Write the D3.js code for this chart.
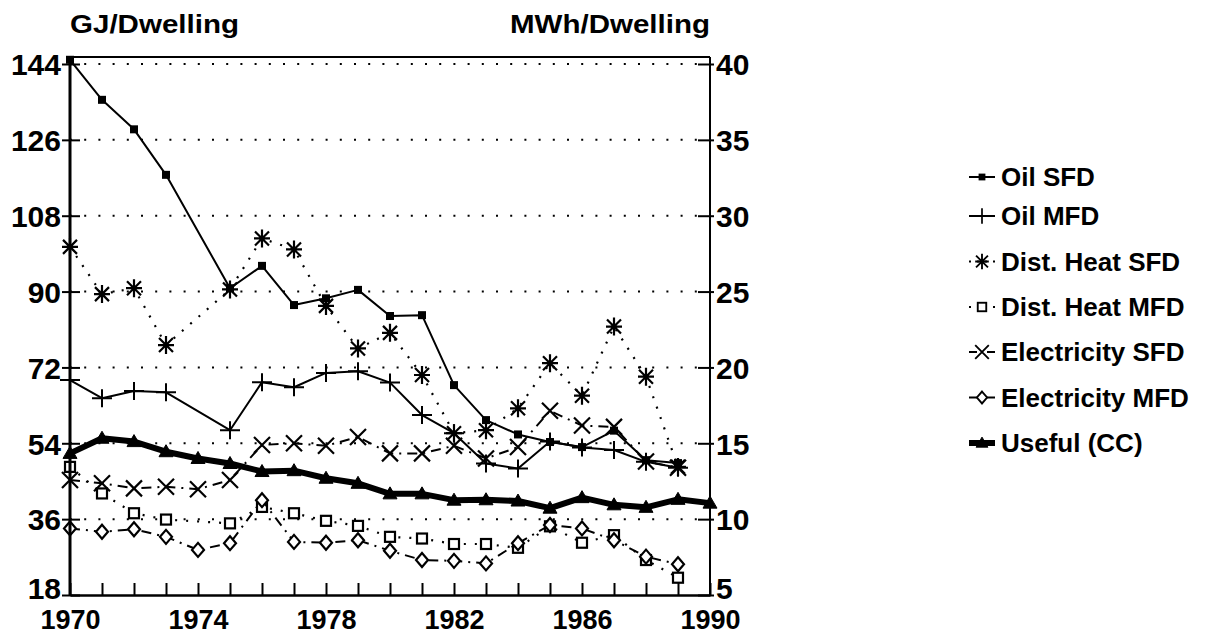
<!DOCTYPE html>
<html><head><meta charset="utf-8">
<script src="https://cdn.jsdelivr.net/npm/d3@7"></script>
<style>body{margin:0;background:#fff}svg{display:block}</style>
</head><body><svg id="c" width="1212" height="634"></svg>
<script>
// ---- data (GJ/Dwelling) ----
const years = [1970,1971,1972,1973,1974,1975,1976,1977,1978,1979,1980,1981,1982,1983,1984,1985,1986,1987,1988,1989,1990];
const oilSFD  = [145.0,135.5,128.5,117.7,null,90.8,96.1,86.8,88.4,90.4,84.2,84.4,67.8,59.5,56.1,54.3,53.1,57.0,50.0,49.3,null];
const oilMFD  = [69.0,64.7,66.4,66.1,null,57.1,68.5,67.3,70.7,71.1,68.4,60.7,56.4,49.2,48.0,54.4,53.0,52.4,49.6,48.2,null];
const dhSFD   = [100.6,89.4,90.8,77.3,null,90.5,102.6,100.0,86.6,76.5,80.2,70.2,56.4,57.1,62.3,73.0,65.3,81.7,69.8,48.4,null];
const dhMFD   = [48.4,42.1,37.4,35.9,null,35.0,38.9,37.4,35.6,34.4,31.8,31.4,30.1,30.1,29.2,34.3,30.4,32.2,26.3,22.1,null];
const elSFD   = [45.3,44.5,43.3,43.7,43.1,45.3,53.6,54.0,53.4,55.5,51.6,51.6,53.4,50.4,53.1,61.7,58.2,57.9,49.7,48.2,null];
const elMFD   = [33.8,33.0,33.6,31.8,28.7,30.3,40.5,30.6,30.4,31.0,28.5,26.3,26.1,25.5,30.3,34.6,33.8,31.0,27.1,25.3,null];
const useful  = [51.6,55.2,54.4,52.0,50.4,49.2,47.3,47.5,45.7,44.5,42.0,42.0,40.5,40.6,40.3,38.6,41.1,39.4,38.8,40.7,39.8];
const seriesNames = ["Oil SFD","Oil MFD","Dist. Heat SFD","Dist. Heat MFD","Electricity SFD","Electricity MFD","Useful (CC)"];
const leftTicks  = [18,36,54,72,90,108,126,144];
const rightTicks = [5,10,15,20,25,30,35,40];
const yearLabels = [1970,1974,1978,1982,1986,1990];
const leftTitle = "GJ/Dwelling";
const rightTitle = "MWh/Dwelling";

// ---- styles ----
const styles = [
  {marker:"sq",   dash:null,        w:2},
  {marker:"plus", dash:null,        w:2},
  {marker:"star", dash:"2,9",       w:2.2},
  {marker:"box",  dash:"2,9",       w:2.2},
  {marker:"x",    dash:"10,6,2,6",  w:2},
  {marker:"dia",  dash:"10,6,2,6",  w:2},
  {marker:"tri",  dash:null,        w:6}
];
const allData = [oilSFD,oilMFD,dhSFD,dhMFD,elSFD,elMFD,useful];

const FONT = "'Liberation Sans', Arial, Helvetica, sans-serif";
const svg = d3.select('#c');
const L=70, R=710, T=57, B=595;
const x = d3.scaleLinear().domain([1970,1990]).range([L,R]);
const y = d3.scaleLinear().domain([18,144]).range([B,64]);
const yR = d3.scaleLinear().domain([5,40]).range([B,64]);

svg.append('rect').attr('width',1212).attr('height',634).attr('fill','#fff');

// grid
svg.append('g').selectAll('line').data(leftTicks.filter(t=>t>18)).join('line')
  .attr('x1',L).attr('x2',R).attr('y1',d=>y(d)).attr('y2',d=>y(d))
  .attr('stroke','#000').attr('stroke-width',2).attr('stroke-dasharray','2,12.2');

function marker(g, type, cx, cy, k){
  k = k || 1;
  const s = g.append('g').attr('transform',`translate(${cx},${cy}) scale(${k})`)
    .attr('stroke','#000').attr('fill','none').attr('stroke-width',2);
  if(type==='sq'){ s.append('rect').attr('x',-3).attr('y',-3).attr('width',6).attr('height',6).attr('fill','#000'); }
  else if(type==='plus'){ s.append('path').attr('d','M-10,0H10M0,-9V9'); }
  else if(type==='star'){ s.append('path').attr('d','M-8,0H8M0,-9V9M-7,-7L7,7M-7,7L7,-7').attr('stroke-width',2.2); }
  else if(type==='box'){ s.append('rect').attr('x',-5).attr('y',-5).attr('width',10).attr('height',10).attr('fill','#fff').attr('stroke-width',2.2); }
  else if(type==='x'){ s.append('path').attr('d','M-8,-8L8,8M-8,8L8,-8').attr('stroke-width',2.2); }
  else if(type==='dia'){ s.append('path').attr('d','M0,-7L6,0L0,7L-6,0Z').attr('fill','#fff').attr('stroke-width',2.2); }
  else if(type==='tri'){ s.append('path').attr('d','M0,-7L7,5H-7Z').attr('fill','#000').attr('stroke-width',1); }
}

// series
const line = d3.line().x(d=>x(d.yr)).y(d=>y(d.v));
allData.forEach((arr,i)=>{
  const pts = years.map((yr,j)=>({yr, v:arr[j]})).filter(d=>d.v!=null);
  const st = styles[i];
  const p = svg.append('path').datum(pts).attr('d',line).attr('fill','none')
    .attr('stroke','#000').attr('stroke-width',st.w).attr('stroke-linejoin','round');
  if(st.dash) p.attr('stroke-dasharray',st.dash);
  const g = svg.append('g');
  pts.forEach(d=>marker(g, st.marker, x(d.yr), y(d.v)));
});

// frame
svg.append('line').attr('x1',L).attr('x2',R).attr('y1',T).attr('y2',T).attr('stroke','#000').attr('stroke-width',2);
svg.append('line').attr('x1',R).attr('x2',R).attr('y1',T).attr('y2',B).attr('stroke','#000').attr('stroke-width',2);

// left axis
const gL = svg.append('g').attr('transform',`translate(${L},0)`)
  .call(d3.axisLeft(y).tickValues(leftTicks).tickSizeInner(8).tickSizeOuter(0).tickPadding(1));
gL.select('.domain').attr('stroke-width',3).attr('d',`M0,${T}V${B}`);
gL.selectAll('.tick line').attr('x1',-8).attr('x2',10).attr('stroke-width',2);
gL.selectAll('.tick text').attr('font-family',FONT).attr('font-size',30).attr('font-weight','bold').attr('fill','#000').attr('dy','0.36em');
gL.selectAll('.tick text').filter(d=>d===18).attr('dy','0.1em');

// right axis
const gR = svg.append('g').attr('transform',`translate(${R},0)`)
  .call(d3.axisRight(yR).tickValues(rightTicks).tickSizeInner(4).tickSizeOuter(0).tickPadding(2));
gR.select('.domain').attr('stroke-width',2).attr('d',`M0,${T}V${B}`);
gR.selectAll('.tick line').attr('x1',-12).attr('x2',4).attr('stroke-width',2);
gR.selectAll('.tick text').attr('font-family',FONT).attr('font-size',30).attr('font-weight','bold').attr('fill','#000').attr('dy','0.36em');
gR.selectAll('.tick text').filter(d=>d===5).attr('dy','0.1em');

// bottom axis
const gB = svg.append('g').attr('transform',`translate(0,${B})`)
  .call(d3.axisBottom(x).tickValues(years).tickFormat(d=>yearLabels.includes(d)?String(d):'').tickSizeInner(-12).tickSizeOuter(0).tickPadding(4));
gB.select('.domain').attr('stroke-width',2.5);
gB.selectAll('.tick line').attr('stroke-width',2);
gB.selectAll('.tick text').attr('font-family',FONT).attr('font-size',27).attr('font-weight','bold').attr('fill','#000').attr('y',34).attr('dy',0);

// titles
svg.append('text').attr('x',L).attr('y',33).text(leftTitle)
  .attr('font-family',FONT).attr('font-size',26).attr('font-weight','bold')
  .attr('textLength',169).attr('lengthAdjust','spacingAndGlyphs');
svg.append('text').attr('x',510).attr('y',33).text(rightTitle)
  .attr('font-family',FONT).attr('font-size',26).attr('font-weight','bold')
  .attr('textLength',200).attr('lengthAdjust','spacingAndGlyphs');

// legend
const legY = d3.scaleOrdinal().domain(seriesNames).range([177,216,261.5,307,352,397.5,443]);
const lg = svg.append('g');
seriesNames.forEach((name,i)=>{
  const cy = legY(name);
  const st = styles[i];
  const g = lg.append('g');
  g.append('line').attr('x1',969).attr('x2',995).attr('y1',cy).attr('y2',cy)
    .attr('stroke','#000').attr('stroke-width',Math.min(st.w,6))
    .attr('stroke-dasharray', st.dash ? (st.dash.startsWith('2')?'2,6':'8,4,2,4') : null);
  marker(g, st.marker, 982, cy, 0.85);
  g.append('text').attr('x',1001).attr('y',cy).attr('dy','0.36em').text(name)
    .attr('font-family',FONT).attr('font-size',26).attr('font-weight','bold');
});
</script>
</body></html>
